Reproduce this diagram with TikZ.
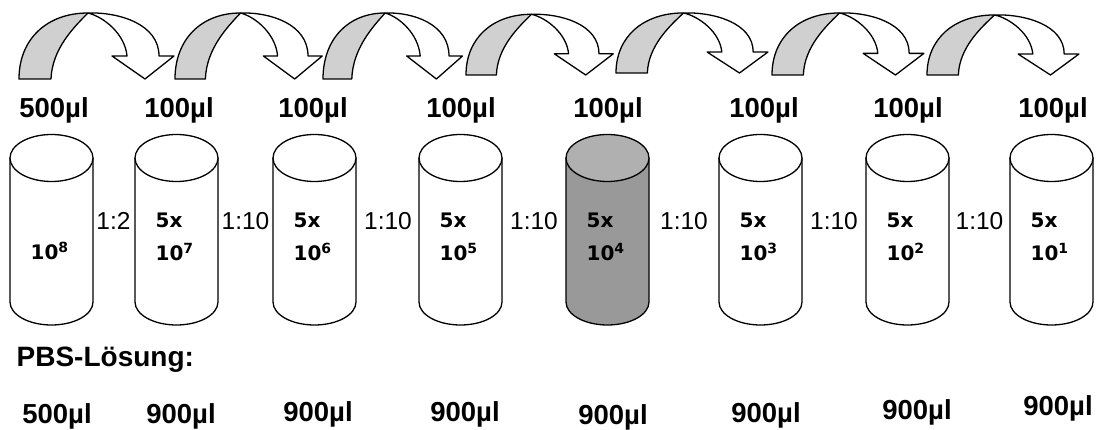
\documentclass[tikz,border=0pt]{standalone}
\usepackage{fontspec}
\setmainfont{Liberation Sans}
\newfontfamily\cylfont{DejaVu Sans}
\definecolor{arrowgray}{HTML}{D0D0D0}
\definecolor{bodygray}{HTML}{999999}
\definecolor{topgray}{HTML}{B0B0B0}
% #1 origin x, #2 base y, #3 x scale, #4 y scale
\newcommand\bendarrow[4]{%
  \begin{scope}[shift={(#1,#2)},xscale=#3,yscale=#4]
    \filldraw[fill=arrowgray] (0,0) .. controls (0,-40) and (28,-66) .. (69,-66)
      .. controls (55,-52) and (33,-30) .. (32,0) -- cycle;
    \filldraw[fill=white] (69,-66) .. controls (100,-67) and (140,-55) .. (140,-23)
      -- (155,-23) -- (126,0) -- (93,-23) -- (108,-23)
      .. controls (106,-45) and (85,-62) .. (69,-66) -- cycle;
  \end{scope}}
\newcommand\tube[3]{%
  \filldraw[fill=#2] (#1,158) -- (#1,302) arc[start angle=180,end angle=0,x radius=41.5,y radius=23]
    -- ({#1+83},158) -- cycle;
  \filldraw[fill=#3] ({#1+41.5},158) ellipse[x radius=41.5,y radius=23.5];}
\newcommand\sups[1]{\raisebox{7pt}{\fontsize{14}{14}\selectfont #1}}
\begin{document}
\begin{tikzpicture}[x=1pt,y=-1pt,line width=1.3pt,line join=round,
  lbl/.style={font=\bfseries\fontsize{27.5}{30}\selectfont,anchor=base,inner sep=0pt},
  ratio/.style={font=\fontsize{24.5}{28}\selectfont,anchor=base,inner sep=0pt},
  cyltext/.style={font=\cylfont\bfseries\fontsize{20}{22}\selectfont,anchor=base west,inner sep=0pt}]
\useasboundingbox (0,0) rectangle (1096,430);
% curved arrows
\bendarrow{19}{79}{1}{1}
\bendarrow{175}{79}{0.95}{1}
\bendarrow{323}{79}{0.9}{1}
\bendarrow{466}{75}{0.95}{0.92}
\bendarrow{616}{73}{0.98}{0.91}
\bendarrow{772}{75}{0.98}{0.94}
\bendarrow{927}{75}{0.98}{0.91}
% top volume labels
\node[lbl] (t1) at (54,118) {500µl};
\node[lbl] (t2) at (179,118) {100µl};
\node[lbl] (t3) at (313,118) {100µl};
\node[lbl] (t4) at (461,118) {100µl};
\node[lbl] (t5) at (608,118) {100µl};
\node[lbl] (t6) at (764,118) {100µl};
\node[lbl] (t7) at (908,118) {100µl};
\node[lbl] (t8) at (1053,118) {100µl};
% tubes
\tube{10}{white}{white}
\tube{135}{white}{white}
\tube{273}{white}{white}
\tube{419}{white}{white}
\tube{566}{bodygray}{topgray}
\tube{719}{white}{white}
\tube{866}{white}{white}
\tube{1010}{white}{white}
% tube texts
\node[cyltext] (c1b) at (30,260) {10\sups{8}};
\node[cyltext] (c2a) at (155,228) {5x};
\node[cyltext] (c2b) at (155,261) {10\sups{7}};
\node[cyltext] (c3a) at (293,228) {5x};
\node[cyltext] (c3b) at (293,261) {10\sups{6}};
\node[cyltext] (c4a) at (439,228) {5x};
\node[cyltext] (c4b) at (439,261) {10\sups{5}};
\node[cyltext] (c5a) at (586,228) {5x};
\node[cyltext] (c5b) at (586,261) {10\sups{4}};
\node[cyltext] (c6a) at (739,228) {5x};
\node[cyltext] (c6b) at (739,261) {10\sups{3}};
\node[cyltext] (c7a) at (886,228) {5x};
\node[cyltext] (c7b) at (886,261) {10\sups{2}};
\node[cyltext] (c8a) at (1030,228) {5x};
\node[cyltext] (c8b) at (1030,261) {10\sups{1}};
% ratios
\node[ratio] (r1) at (113.5,230) {1:2};
\node[ratio] (r2) at (245.5,230) {1:10};
\node[ratio] (r3) at (388,230) {1:10};
\node[ratio] (r4) at (534,230) {1:10};
\node[ratio] (r5) at (684,230) {1:10};
\node[ratio] (r6) at (834,230) {1:10};
\node[ratio] (r7) at (979.5,230) {1:10};
% PBS
\node[font=\bfseries\fontsize{28}{30}\selectfont,anchor=base west,inner sep=0pt] (pbs) at (16,367) {PBS-Lösung:};
\node[lbl] (b1) at (57,424) {500µl};
\node[lbl] (b2) at (181,424) {900µl};
\node[lbl] (b3) at (318,421) {900µl};
\node[lbl] (b4) at (465,422) {900µl};
\node[lbl] (b5) at (613,425) {900µl};
\node[lbl] (b6) at (766,423) {900µl};
\node[lbl] (b7) at (917,420) {900µl};
\node[lbl] (b8) at (1058,416) {900µl};
\end{tikzpicture}
\end{document}
